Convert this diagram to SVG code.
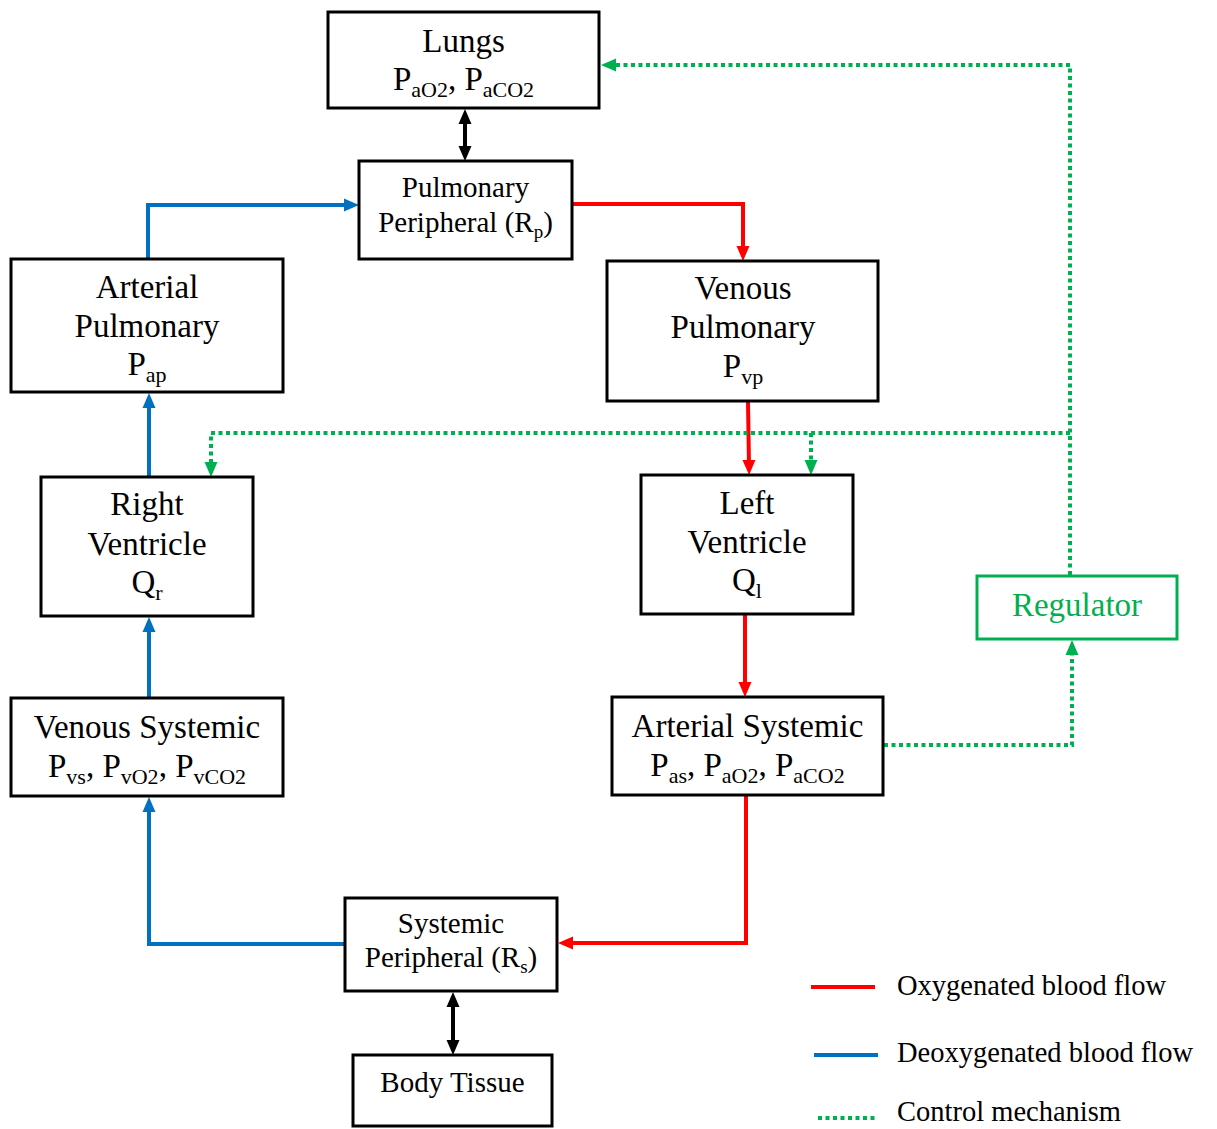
<svg xmlns="http://www.w3.org/2000/svg" width="1217" height="1129" viewBox="0 0 1217 1129">
  <style>
    .box { fill: #fff; stroke: #000; stroke-width: 3; }
    .reg { fill: #fff; stroke: #00B050; stroke-width: 3; }
    text { font-family: "Liberation Serif", "Times New Roman", serif; fill: #000; text-anchor: middle; }
    .big { font-size: 33px; }
    .mid { font-size: 29px; }
    .leg { font-size: 28.5px; text-anchor: start; }
    .sb { font-size: 22px; }
    .ss { font-size: 19px; }
    .green { fill: #00B050; }
    .line { fill: none; stroke-width: 4; }
    .red { stroke: #FF0000; }
    .blue { stroke: #0070C0; }
    .blk { stroke: #000; }
    .ctl { stroke: #00B050; stroke-dasharray: 4 3.5; }
  </style>
  <defs>
    <marker id="aR" markerUnits="userSpaceOnUse" markerWidth="16" markerHeight="14" refX="6" refY="6.5" orient="auto" overflow="visible"><path d="M0,0 L15,6.5 L0,13 Z" fill="#FF0000"/></marker>
    <marker id="aB" markerUnits="userSpaceOnUse" markerWidth="16" markerHeight="14" refX="6" refY="6.5" orient="auto" overflow="visible"><path d="M0,0 L15,6.5 L0,13 Z" fill="#0070C0"/></marker>
    <marker id="aG" markerUnits="userSpaceOnUse" markerWidth="16" markerHeight="14" refX="6" refY="6.5" orient="auto" overflow="visible"><path d="M0,0 L15,6.5 L0,13 Z" fill="#00B050"/></marker>
    <marker id="aK" markerUnits="userSpaceOnUse" markerWidth="16" markerHeight="14" refX="6" refY="6.5" orient="auto-start-reverse" overflow="visible"><path d="M0,0 L15,6.5 L0,13 Z" fill="#000"/></marker>
  </defs>
  <rect width="1217" height="1129" fill="#fff"/>

  <!-- connectors -->
  <g id="connectors">
    <path class="line blk" d="M465,118 V152" marker-start="url(#aK)" marker-end="url(#aK)"/>
    <path class="line blue" d="M148,258 V205 H350" marker-end="url(#aB)"/>
    <path class="line red" d="M572,204 H743 V252" marker-end="url(#aR)"/>
    <path class="line red" d="M748,401 L749,466" marker-end="url(#aR)"/>
    <path class="line red" d="M745,614 V688" marker-end="url(#aR)"/>
    <path class="line red" d="M746,796 V943 H567" marker-end="url(#aR)"/>
    <path class="line blue" d="M346,944 H149 V806" marker-end="url(#aB)"/>
    <path class="line blue" d="M149,697 V626" marker-end="url(#aB)"/>
    <path class="line blue" d="M149,477 V402" marker-end="url(#aB)"/>
    <path class="line blk" d="M453,1001 V1046" marker-start="url(#aK)" marker-end="url(#aK)"/>
    <path class="line ctl" d="M1070,575 V65 H610" marker-end="url(#aG)"/>
    <path class="line ctl" d="M1070,433 H211 V468" marker-end="url(#aG)"/>
    <path class="line ctl" d="M811,433 V466" marker-end="url(#aG)"/>
    <path class="line ctl" d="M884,745 H1072 V649" marker-end="url(#aG)"/>
  </g>

  <g id="lungs">
    <rect class="box" x="328" y="12" width="271" height="96"/>
    <text class="big" x="463.5" y="52">Lungs</text>
    <text class="big" x="463.5" y="90">P<tspan class="sb" dy="7">aO2</tspan><tspan dy="-7">, P</tspan><tspan class="sb" dy="7">aCO2</tspan></text>
  </g>

  <g id="pulmonary-peripheral">
    <rect class="box" x="359" y="161" width="213" height="98"/>
    <text class="mid" x="465.5" y="197">Pulmonary</text>
    <text class="mid" x="465.5" y="232">Peripheral (R<tspan class="ss" dy="6">p</tspan><tspan dy="-6">)</tspan></text>
  </g>

  <g id="arterial-pulmonary">
    <rect class="box" x="11" y="259" width="272" height="133"/>
    <text class="big" x="147" y="298">Arterial</text>
    <text class="big" x="147" y="337">Pulmonary</text>
    <text class="big" x="147" y="375">P<tspan class="sb" dy="7">ap</tspan></text>
  </g>

  <g id="venous-pulmonary">
    <rect class="box" x="607" y="261" width="271" height="140"/>
    <text class="big" x="743" y="299">Venous</text>
    <text class="big" x="743" y="338">Pulmonary</text>
    <text class="big" x="743" y="377">P<tspan class="sb" dy="7">vp</tspan></text>
  </g>

  <g id="right-ventricle">
    <rect class="box" x="41" y="477" width="212" height="139"/>
    <text class="big" x="147" y="515">Right</text>
    <text class="big" x="147" y="555">Ventricle</text>
    <text class="big" x="147" y="593">Q<tspan class="sb" dy="7">r</tspan></text>
  </g>

  <g id="left-ventricle">
    <rect class="box" x="641" y="475" width="212" height="139"/>
    <text class="big" x="747" y="514">Left</text>
    <text class="big" x="747" y="553">Ventricle</text>
    <text class="big" x="747" y="591">Q<tspan class="sb" dy="7">l</tspan></text>
  </g>

  <g id="regulator">
    <rect class="reg" x="977" y="576" width="200" height="63"/>
    <text class="big green" x="1077" y="616">Regulator</text>
  </g>

  <g id="venous-systemic">
    <rect class="box" x="11" y="698" width="272" height="98"/>
    <text class="big" x="147" y="738">Venous Systemic</text>
    <text class="big" x="147" y="777">P<tspan class="sb" dy="7">vs</tspan><tspan dy="-7">, P</tspan><tspan class="sb" dy="7">vO2</tspan><tspan dy="-7">, P</tspan><tspan class="sb" dy="7">vCO2</tspan></text>
  </g>

  <g id="arterial-systemic">
    <rect class="box" x="612" y="697" width="271" height="98"/>
    <text class="big" x="747.5" y="737">Arterial Systemic</text>
    <text class="big" x="747.5" y="776">P<tspan class="sb" dy="7">as</tspan><tspan dy="-7">, P</tspan><tspan class="sb" dy="7">aO2</tspan><tspan dy="-7">, P</tspan><tspan class="sb" dy="7">aCO2</tspan></text>
  </g>

  <g id="systemic-peripheral">
    <rect class="box" x="345" y="898" width="212" height="93"/>
    <text class="mid" x="451" y="933">Systemic</text>
    <text class="mid" x="451" y="967">Peripheral (R<tspan class="ss" dy="6">s</tspan><tspan dy="-6">)</tspan></text>
  </g>

  <g id="body-tissue">
    <rect class="box" x="353" y="1055" width="199" height="71"/>
    <text class="mid" x="452.5" y="1092">Body Tissue</text>
  </g>

  <g id="legend">
    <line class="line red" x1="811" y1="987" x2="875" y2="987"/>
    <text class="leg" x="897" y="995">Oxygenated blood flow</text>
    <line class="line blue" x1="814" y1="1055" x2="878" y2="1055"/>
    <text class="leg" x="897" y="1062">Deoxygenated blood flow</text>
    <line class="line ctl" x1="818" y1="1118" x2="878" y2="1118"/>
    <text class="leg" x="897" y="1121">Control mechanism</text>
  </g>
</svg>
